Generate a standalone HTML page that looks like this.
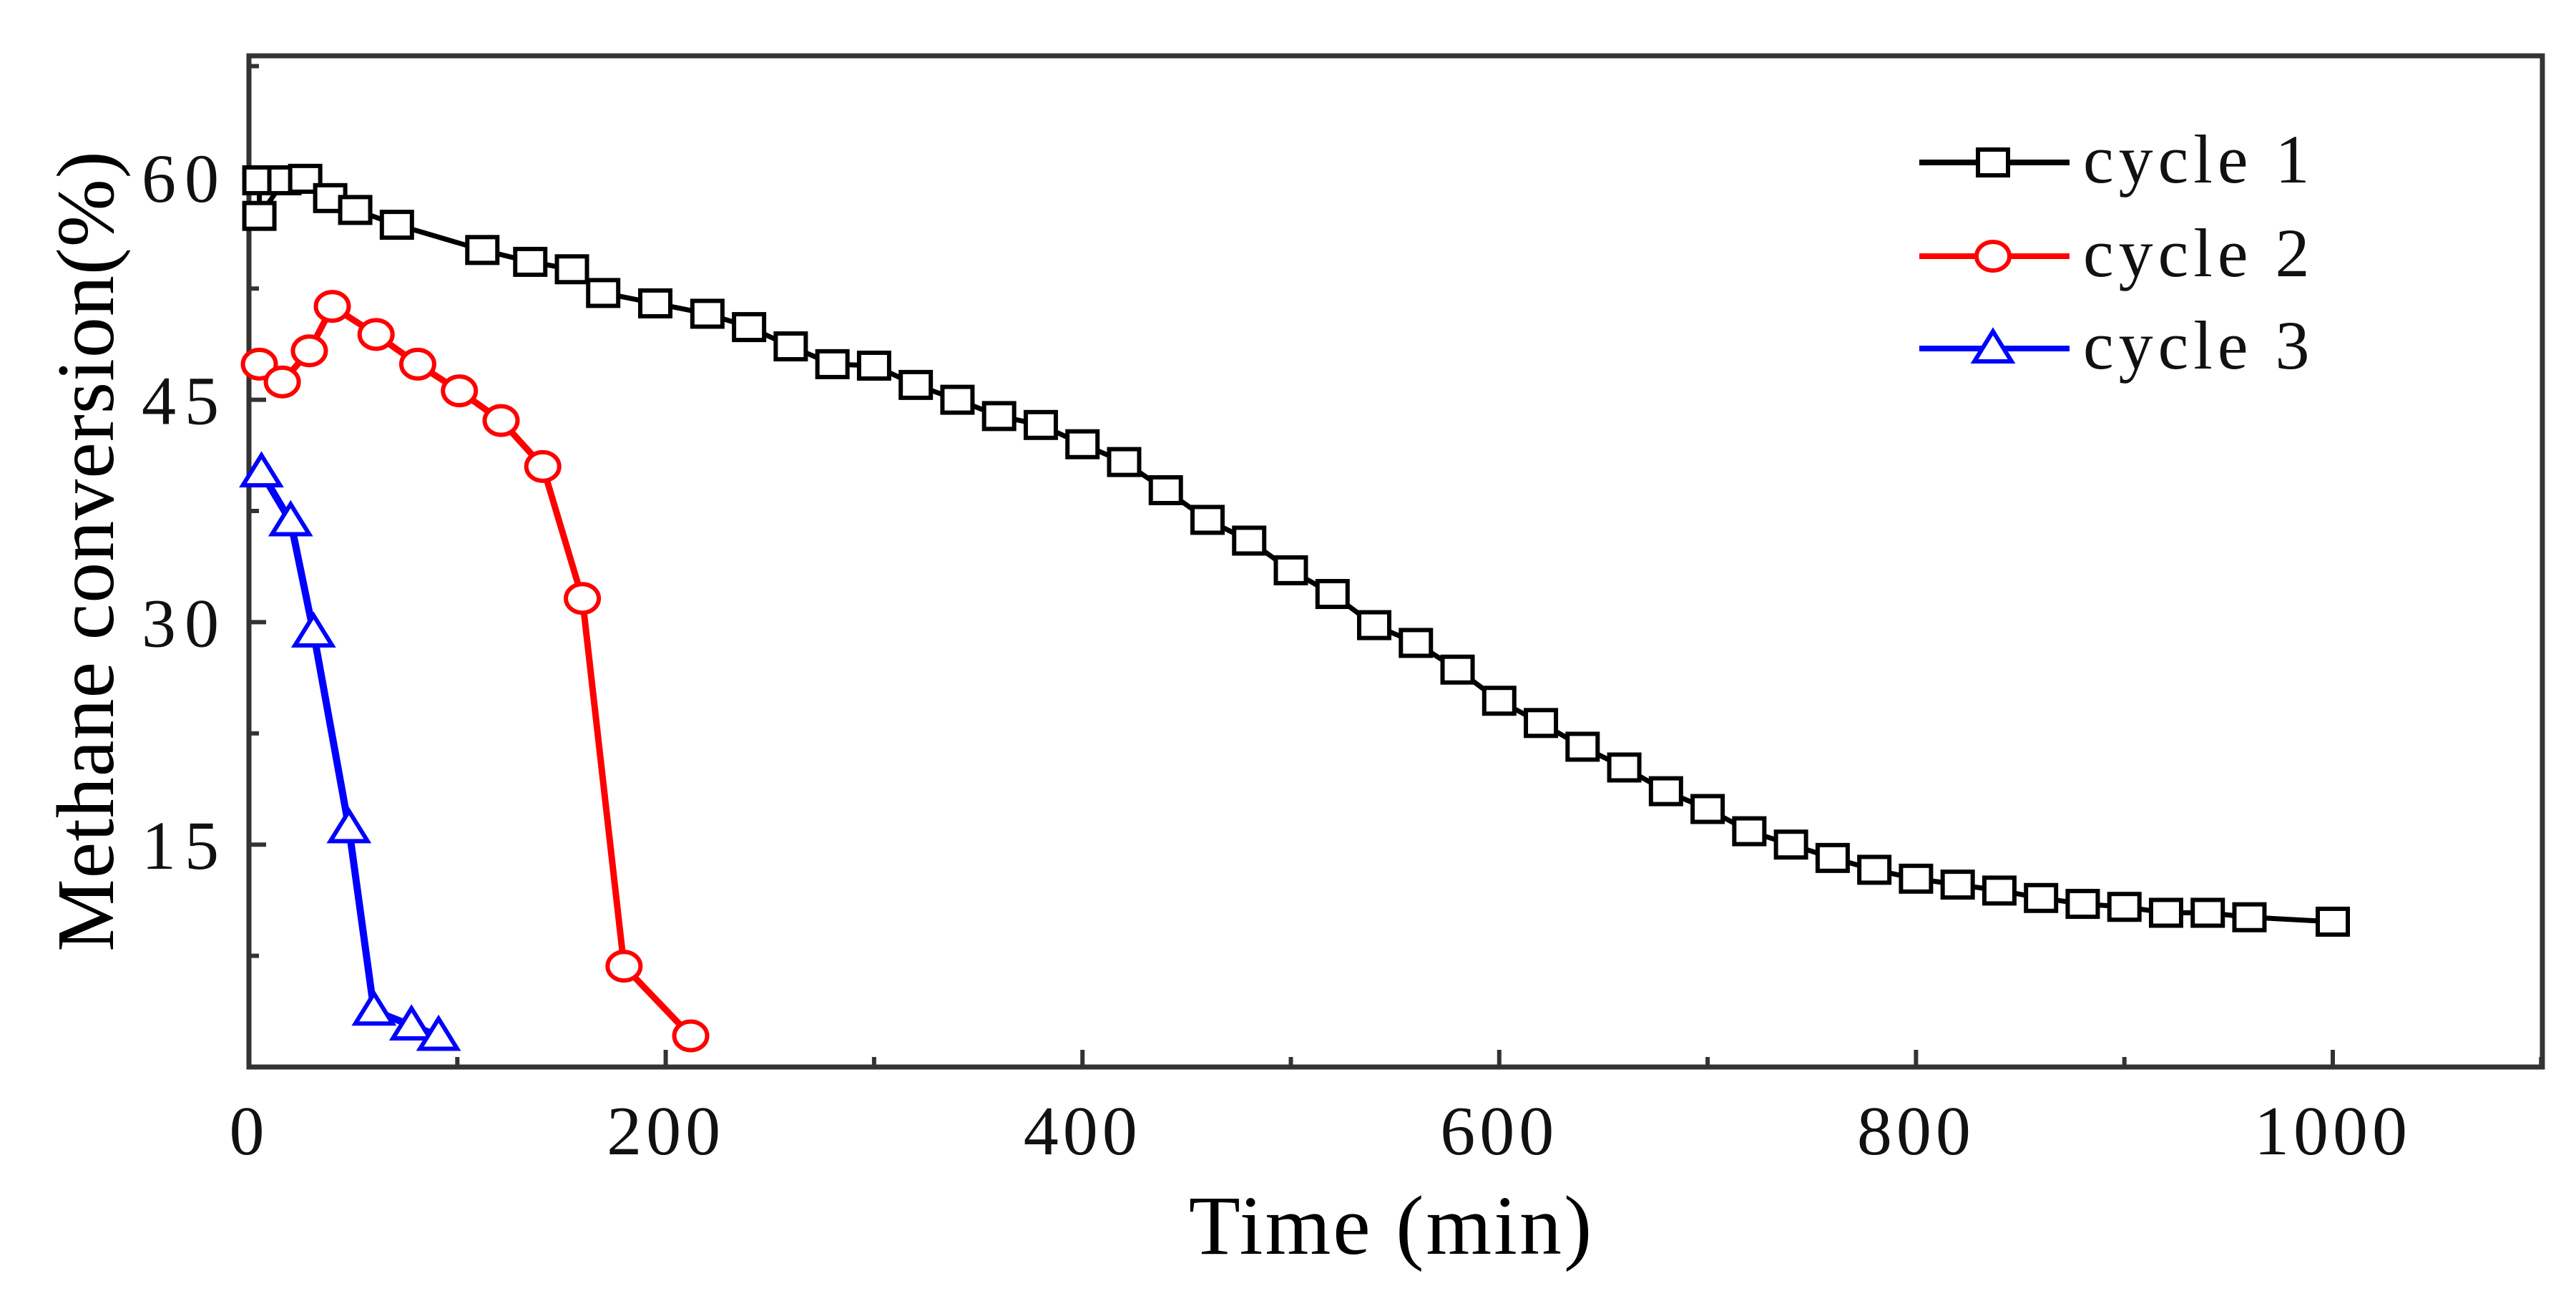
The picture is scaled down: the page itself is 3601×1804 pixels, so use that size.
<!DOCTYPE html>
<html><head><meta charset="utf-8"><style>
html,body{margin:0;padding:0;background:#fff;}
svg{display:block;font-family:"Liberation Serif",serif;}
</style></head><body>
<svg id="chart" width="3601" height="1804" viewBox="0 0 3601 1804" xmlns="http://www.w3.org/2000/svg">
<g id="axes"></g>
<g id="series"></g>
<g id="legend"></g>
<text x="1945" y="1752" font-size="118" text-anchor="middle" letter-spacing="3">Time (min)</text>
<text transform="translate(158,770) rotate(-90)" font-size="114" text-anchor="middle" letter-spacing="1">Methane conversion(%)</text>
</svg>
<script>
const xTicks=[0,200,400,600,800,1000];
const yTicks=[15,30,45,60];
const c1x=[5,5,17,27,39,51,71,112,135,155,170,195,220,240,260,280,300,320,340,360,380,400,420,440,460,480,500,520,540,560,580,600,620,640,660,680,700,720,740,760,780,800,820,840,860,880,900,920,940,960,1000];
const c1y=[59.8,57.4,59.8,59.9,58.6,57.8,56.8,55.1,54.3,53.8,52.2,51.5,50.8,49.9,48.6,47.4,47.3,46.0,45.0,43.9,43.3,42.0,40.8,38.9,36.9,35.5,33.5,31.9,29.8,28.6,26.8,24.7,23.2,21.6,20.2,18.6,17.4,15.9,15.0,14.1,13.3,12.7,12.3,11.9,11.4,11.0,10.8,10.4,10.4,10.1,9.8];
const c2x=[5,16,29,40,61,81,101,121,141,160,180,212];
const c2y=[47.4,46.2,48.3,51.3,49.4,47.4,45.6,43.6,40.5,31.6,6.8,2.1];
const c3x=[6,20,31,48,60,78,91];
const c3y=[40.1,36.8,29.3,16.1,3.8,2.8,2.1];
const legendLabels=["cycle 1","cycle 2","cycle 3"];

const L=348,R=3554,T=78,B=1491;
const X=v=>L+v*2.913;
const Y=v=>B-v*20.72;
const NS="http://www.w3.org/2000/svg";
function mk(tag,attrs,parent){const e=document.createElementNS(NS,tag);for(const k in attrs)e.setAttribute(k,attrs[k]);parent.appendChild(e);return e;}
const axes=document.getElementById('axes');
const frame=mk('rect',{x:L,y:T,width:R-L,height:B-T,fill:'none',stroke:'#333','stroke-width':7},axes);


for(let v=0;v<=1100;v+=100){
  const major=v%200===0;
  const t=mk('line',{x1:X(v),x2:X(v),y1:B,y2:B-(major?24:14),stroke:'#333','stroke-width':6},axes);
  
  
}
xTicks.forEach(v=>{
  const t=mk('text',{x:X(v),y:1613,'font-size':98,'text-anchor':'middle','letter-spacing':6,fill:'#111'},axes);
  t.textContent=v;
  
  
});
for(let v=7.5;v<68;v+=7.5){
  const major=Math.abs(v%15)<0.01;
  const t=mk('line',{x1:L,x2:L+(major?24:14),y1:Y(v),y2:Y(v),stroke:'#333','stroke-width':6},axes);
  
  
}
yTicks.forEach(v=>{
  const t=mk('text',{x:318,y:Y(v)+34,'font-size':96,'text-anchor':'end','letter-spacing':12,fill:'#111'},axes);
  t.textContent=v;
  
  
});
const ser=document.getElementById('series');
function marker(type,cx,cy,color,parent){
  let m;
  if(type==='sq') m=mk('rect',{x:cx-21,y:cy-18,width:42,height:36,fill:'#fff',stroke:color,'stroke-width':6},parent);
  else if(type==='ci') m=mk('ellipse',{cx:cx,cy:cy,rx:23,ry:20,fill:'#fff',stroke:color,'stroke-width':6},parent);
  else m=mk('polygon',{points:`${cx},${cy-24} ${cx-26},${cy+18} ${cx+26},${cy+18}`,fill:'#fff',stroke:color,'stroke-width':6},parent);
  return m;
}
function drawSeries(xs,ys,color,w,type,name){
  const g=mk('g',{},ser);
  
  
  const pl=mk('polyline',{points:xs.map((x,i)=>X(x)+','+Y(ys[i])).join(' '),fill:'none',stroke:color,'stroke-width':w,'stroke-linejoin':'round'},g);
  
  
  xs.forEach((x,i)=>{
    const m=marker(type,X(x),Y(ys[i]),color,g);
    
    
  });
}
drawSeries(c1x,c1y,'#000',7,'sq','cycle-1');
drawSeries(c2x,c2y,'#f00',9,'ci','cycle-2');
drawSeries(c3x,c3y,'#00f',10,'tr','cycle-3');
const lg=document.getElementById('legend');
const lcol=['#000','#f00','#00f'],ltype=['sq','ci','tr'],ly=[227,358,487];
legendLabels.forEach((lab,i)=>{
  const g=mk('g',{},lg);
  
  
  mk('line',{x1:2683,x2:2893,y1:ly[i],y2:ly[i],stroke:lcol[i],'stroke-width':8},g);
  marker(ltype[i],2786,ly[i],lcol[i],g);
  const t=mk('text',{x:2912,y:ly[i]+28,'font-size':96,'letter-spacing':7,fill:'#111'},g);
  t.textContent=lab;
});
</script>
</body></html>
